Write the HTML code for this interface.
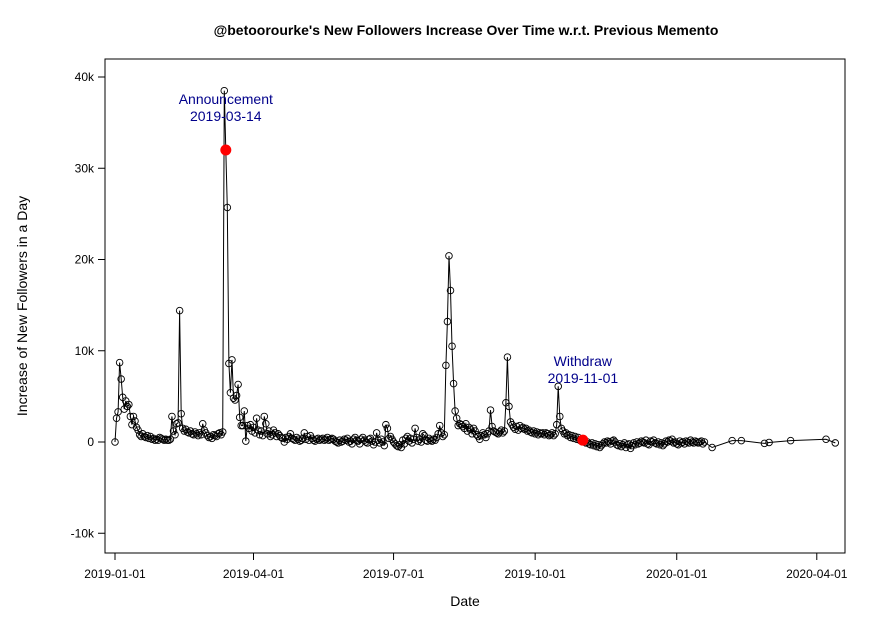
<!DOCTYPE html>
<html><head><meta charset="utf-8"><style>
html,body{margin:0;padding:0;background:#fff;}
svg{display:block;font-family:"Liberation Sans",Arial,sans-serif;}
</style></head><body>
<svg id="chart" width="875" height="625">
<text x="466" y="35" text-anchor="middle" font-size="14" font-weight="bold">@betoorourke's New Followers Increase Over Time w.r.t. Previous Memento</text>
<rect x="105" y="59" width="740" height="494" fill="none" stroke="#000"/>
<text x="465" y="606" text-anchor="middle" font-size="14">Date</text>
<text transform="translate(27,306) rotate(-90)" text-anchor="middle" font-size="14">Increase of New Followers in a Day</text>
<g id="axes"></g><g id="marks"></g><g id="notes"></g>
</svg>
<script>
const yTicks = [-10, 0, 10, 20, 30, 40];
const yTickLabels = ["-10k", "0", "10k", "20k", "30k", "40k"];
const xTickDays = [0, 90, 181, 273, 365, 456];
const xTickLabels = ["2019-01-01", "2019-04-01", "2019-07-01", "2019-10-01", "2020-01-01", "2020-04-01"];
const dailyValues = [
0,2.6,3.3,8.7,6.9,4.9,3.6,4.5,3.9,4.1,
2.8,1.9,2.8,2.3,1.6,1.3,0.8,0.6,0.9,0.6,
0.5,0.7,0.4,0.6,0.3,0.4,0.2,0.3,0.2,0.5,
0.4,0.3,0.2,0.3,0.2,0.2,0.3,2.8,1.2,0.8,
2.0,2.1,14.4,3.1,1.5,1.2,1.4,1.1,1.0,1.2,
0.9,0.8,1.1,0.9,0.7,1.0,0.8,2.0,1.3,1.0,
0.7,0.5,0.6,0.4,0.8,0.7,0.6,0.9,1.0,0.8,
1.1,38.5,32.0,25.7,8.6,5.4,9.0,4.8,4.6,5.1,
6.3,2.7,1.8,1.8,3.4,0.1,1.8,1.5,1.9,1.2,
1.6,1.0,2.6,1.3,0.8,1.2,0.7,2.8,2.0,0.9,
1.2,0.6,0.8,1.3,1.0,0.6,0.9,0.7,0.5,0.4,
0.0,0.5,0.3,0.6,0.9,0.4,0.3,0.2,0.5,0.3,
0.1,0.2,0.4,1.0,0.3,0.6,0.2,0.7,0.4,0.2,
0.1,0.3,0.4,0.2,0.3,0.4,0.2,0.3,0.5,0.2,
0.3,0.4,0.3,0.1,0.0,-0.1,0.2,0.0,0.1,0.3,
0.2,0.4,0.0,0.1,-0.2,0.3,0.5,0.2,0.1,-0.2,
0.3,0.5,0.2,0.0,-0.1,0.3,0.4,0.1,-0.3,0.0,
1.0,0.2,-0.1,0.3,0.0,-0.4,1.9,1.5,0.4,0.6,
0.3,0.0,-0.2,-0.4,-0.5,-0.3,-0.6,0.2,-0.2,0.4,
0.6,0.1,0.4,-0.1,0.3,1.5,0.5,0.1,0.3,0.0,
0.9,0.7,0.2,0.1,0.4,0.2,0.1,0.3,0.2,0.5,
0.9,1.8,1.0,0.6,0.8,8.4,13.2,20.4,16.6,10.5,
6.4,3.4,2.6,1.8,2.0,1.9,1.7,1.5,2.0,1.2,
1.6,1.4,0.9,1.5,1.2,0.8,0.6,0.3,0.7,1.0,
0.8,0.5,0.9,1.2,3.5,1.7,1.2,1.1,1.0,0.9,
1.1,1.3,1.0,1.2,4.3,9.3,3.9,2.2,1.9,1.6,
1.4,1.7,1.3,1.8,1.5,1.6,1.4,1.5,1.2,1.3,
1.1,1.0,1.2,0.9,1.1,0.8,1.0,0.9,1.0,0.8,
1.0,0.9,0.7,0.8,1.0,0.7,0.9,1.9,6.1,2.8,
1.5,1.2,0.9,1.0,0.7,0.8,0.5,0.7,0.4,0.6,
0.3,0.5,0.2,0.3,0.2,0.1,-0.1,0.0,-0.2,-0.3,
-0.1,-0.4,-0.2,-0.5,-0.3,-0.6,-0.4,-0.2,0.0,-0.1,
0.1,0.0,-0.2,0.1,0.2,0.0,-0.3,-0.4,-0.2,-0.5,
-0.3,-0.1,-0.6,-0.3,-0.2,-0.7,-0.4,-0.1,-0.3,0.0,
-0.2,-0.1,0.1,0.0,-0.1,0.2,-0.2,-0.3,0.1,0.0,
0.2,-0.1,-0.2,0.0,-0.3,-0.1,-0.4,-0.2,0.1,0.0,
0.2,0.1,0.3,-0.1,0.0,-0.2,-0.3,0.1,-0.1,0.0,
-0.2,0.1,0.0,-0.1,0.2,0.0,-0.1,0.1,0.0,-0.1,
0.0,0.1,-0.2,0.0];
const sparseDays = [388, 401, 407, 422, 425, 439, 462, 468];
const sparseValues = [-0.6, 0.15, 0.15, -0.15, -0.05, 0.15, 0.3, -0.1];
const eventDays = [72, 304];
const eventValues = [32.0, 0.2];
const eventNames = ["Announcement", "Withdraw"];
const eventDates = ["2019-03-14", "2019-11-01"];

const NS = "http://www.w3.org/2000/svg";
function xScale(d){ return 115 + d * 1.539; }
function yScale(v){ return 442 - v * 9.125; }
function mk(tag, attrs, parent){ const e=document.createElementNS(NS,tag); for(const k in attrs) e.setAttribute(k,attrs[k]); parent.appendChild(e); return e; }
const axes=document.getElementById('axes'), marks=document.getElementById('marks'), notes=document.getElementById('notes');

yTicks.forEach((t,i)=>{
  const y=yScale(t);
  const ln=mk('line',{x1:105,x2:98,y1:y,y2:y,stroke:'#000'},axes);
  
  
  const tx=mk('text',{x:94,y:y+4,'text-anchor':'end','font-size':12},axes);
  tx.textContent=yTickLabels[i];
  
  
});
xTickDays.forEach((d,i)=>{
  const x=xScale(d);
  const ln=mk('line',{x1:x,x2:x,y1:553,y2:560,stroke:'#000'},axes);
  
  
  const tx=mk('text',{x:x,y:578,'text-anchor':'middle','font-size':12},axes);
  tx.textContent=xTickLabels[i];
  
  
});

const pts=[];
dailyValues.forEach((v,i)=>pts.push([i,v]));
sparseDays.forEach((d,i)=>pts.push([d,sparseValues[i]]));
const line=mk('polyline',{points:pts.map(p=>xScale(p[0]).toFixed(1)+','+yScale(p[1]).toFixed(1)).join(' '),fill:'none',stroke:'#000','stroke-width':1},marks);


pts.forEach(p=>{
  const c=mk('circle',{cx:xScale(p[0]),cy:yScale(p[1]),r:3.3,fill:'none',stroke:'#000','stroke-width':0.9},marks);
  
  
});
eventDays.forEach((d,i)=>{
  const x=xScale(d), y=yScale(eventValues[i]);
  const c=mk('circle',{cx:x,cy:y,r:5.5,fill:'#f00'},notes);
  
  
  const t1=mk('text',{x:x,y:(i===0?104:366),'text-anchor':'middle','font-size':14,fill:'#00008b'},notes);
  t1.textContent=eventNames[i];
  
  
  const t2=mk('text',{x:x,y:(i===0?121:383),'text-anchor':'middle','font-size':14,fill:'#00008b'},notes);
  t2.textContent=eventDates[i];
  
  
});
</script>
</body></html>
